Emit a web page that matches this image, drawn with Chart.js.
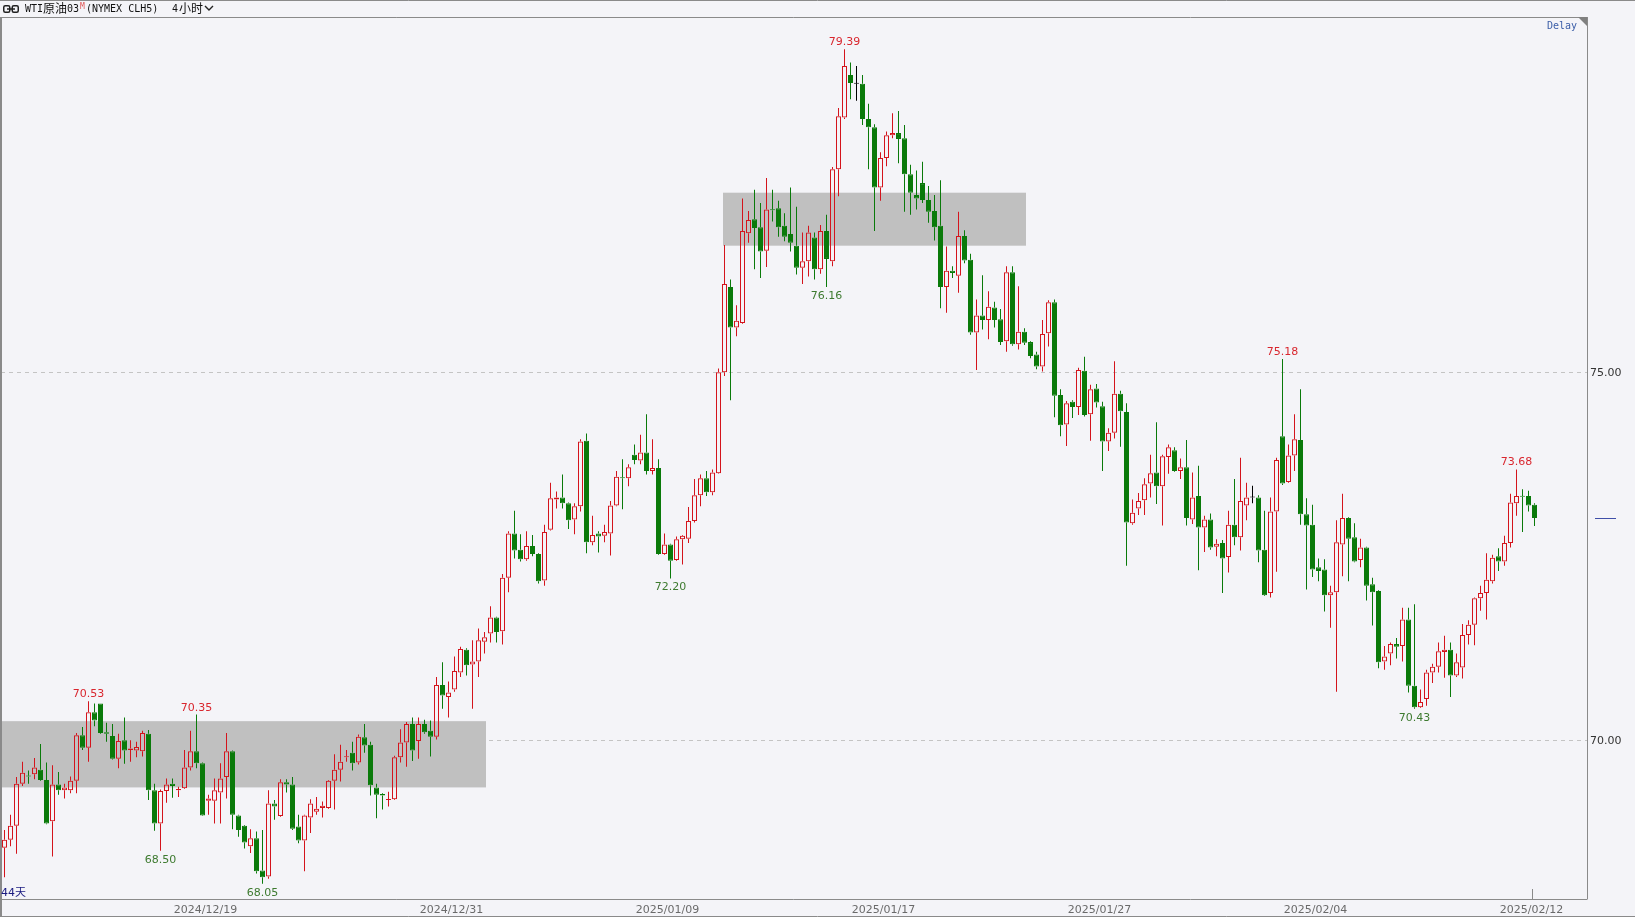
<!DOCTYPE html>
<html>
<head>
<meta charset="utf-8">
<title>WTI原油03 4小时</title>
<script src="https://cdn.jsdelivr.net/npm/chart.js@4.4.1/dist/chart.umd.min.js"></script>
<style>
  html, body { margin: 0; padding: 0; background: #f4f4f8; overflow: hidden; }
  #wrap { position: relative; width: 1635px; height: 917px; }
  #chart { position: absolute; left: 0; top: 0; }
  #hdr { position: absolute; left: 0; top: 0; width: 1635px; height: 17px; color: #111; }
  #hdr span { position: absolute; top: 2px; line-height: 13px; white-space: nowrap; }
  #hdr svg { position: absolute; }
  .mono { font-family: "DejaVu Sans Mono", monospace; font-size: 10px; }
  .cjk { font-family: "Noto Sans CJK SC", sans-serif; font-size: 12px; }
</style>
</head>
<body>
<div id="wrap">
  <canvas id="chart" width="1635" height="917"></canvas>
  <div id="hdr">
    <svg style="left:3px;top:5px" width="16" height="8" viewBox="0 0 16 8">
      <rect x="0.75" y="0.75" width="6" height="6.5" rx="1.5" fill="none" stroke="#222" stroke-width="1.5"/>
      <rect x="9.25" y="0.75" width="6" height="6.5" rx="1.5" fill="none" stroke="#222" stroke-width="1.5"/>
      <line x1="4" y1="4" x2="12" y2="4" stroke="#222" stroke-width="1.5"/>
    </svg>
    <span class="mono" style="left:25px">WTI</span>
    <span class="cjk" style="left:43px;top:1px">原油</span>
    <span class="mono" style="left:67px">03</span>
    <span class="mono" style="left:80px;top:0;font-size:8px;color:#e05050">M</span>
    <span class="mono" style="left:86px">(NYMEX CLH5)</span>
    <span class="mono" style="left:172px">4</span>
    <span class="cjk" style="left:179px;top:1px">小时</span>
    <svg style="left:204px;top:5px" width="10" height="7" viewBox="0 0 10 7">
      <polyline points="1,1 5,5 9,1" fill="none" stroke="#222" stroke-width="1.4"/>
    </svg>
  </div>
</div>
<script>
// 4h candles, oldest first
const open = [
  68.54, 68.65, 68.84, 69.41, 69.52, 69.54, 69.60, 69.46, 68.90, 69.40,
  69.32, 69.32, 69.45, 70.07, 69.90, 70.38, 70.50, 70.11, 70.06, 69.75,
  70.00, 69.87, 69.86, 69.85, 70.09, 69.32, 68.87, 69.31, 69.41, 69.32,
  69.35, 69.63, 69.85, 69.69, 69.18, 69.18, 69.29, 69.50, 69.85, 68.98,
  68.84, 68.56, 68.67, 68.23, 68.15, 69.14, 68.97, 69.43, 69.40, 68.83,
  68.64, 68.95, 69.03, 69.08, 69.08, 69.45, 69.60, 69.77, 69.83, 69.70,
  70.04, 69.94, 69.36, 69.27, 69.19, 69.20, 69.77, 69.97, 70.22, 69.99,
  70.22, 70.13, 70.05, 70.75, 70.59, 70.69, 70.92, 71.23, 71.03, 71.07,
  71.34, 71.45, 71.67, 71.48, 72.21, 72.81, 72.59, 72.46, 72.64, 72.53,
  72.17, 72.86, 73.27, 73.30, 73.22, 73.00, 73.18, 74.07, 72.69, 72.81,
  72.78, 72.81, 73.19, 73.57, 73.56, 73.88, 73.80, 73.91, 73.66, 73.70,
  72.53, 72.66, 72.45, 72.73, 72.74, 72.98, 73.33, 73.56, 73.37, 73.63,
  75.00, 76.16, 75.61, 75.67, 76.89, 77.08, 76.97, 76.65, 77.21, 77.23,
  76.99, 76.88, 76.72, 76.42, 76.51, 76.83, 76.40, 76.92, 76.51, 77.76,
  78.46, 79.04, 78.92, 78.92, 78.44, 78.33, 77.51, 77.91, 78.22, 78.25,
  78.18, 77.69, 77.41, 77.57, 77.34, 77.19, 76.99, 76.16, 76.38, 76.31,
  76.85, 76.53, 75.54, 75.77, 75.71, 75.88, 75.72, 75.42, 76.36, 75.38,
  75.55, 75.41, 75.24, 75.08, 75.53, 75.95, 74.69, 74.29, 74.60, 74.53,
  75.02, 74.43, 74.78, 74.54, 74.06, 74.18, 74.71, 74.46, 72.95, 73.15,
  73.26, 73.49, 73.64, 73.45, 73.85, 73.94, 73.66, 73.71, 73.00, 73.32,
  72.89, 73.00, 72.63, 72.68, 72.49, 72.93, 72.76, 73.19, 73.30, 73.30,
  72.59, 72.00, 73.11, 74.13, 73.51, 73.87, 74.08, 73.07, 72.93, 72.35,
  72.32, 71.97, 72.01, 72.66, 73.02, 72.76, 72.45, 72.62, 72.12, 72.03,
  71.07, 71.18, 71.31, 71.28, 71.64, 70.74, 70.45, 70.56, 70.92, 71.00,
  71.20, 71.23, 70.88, 70.99, 71.43, 71.57, 71.93, 72.00, 72.16, 72.50,
  72.43, 72.68, 73.22, 73.32, 73.32, 73.20
];
const high = [
  68.78, 68.99, 69.50, 69.71, 69.59, 69.76, 69.95, 69.70, 69.66, 69.57,
  69.41, 69.51, 70.10, 70.18, 70.53, 70.50, 70.50, 70.24, 70.22, 70.09,
  70.31, 70.00, 69.98, 70.13, 70.14, 69.41, 69.33, 69.48, 69.48, 69.37,
  69.87, 70.13, 70.35, 69.70, 69.26, 69.48, 69.69, 70.10, 69.86, 68.99,
  68.85, 68.79, 68.76, 68.78, 69.32, 69.19, 69.47, 69.47, 69.50, 68.99,
  68.99, 69.20, 69.23, 69.17, 69.46, 69.81, 69.94, 69.87, 69.98, 70.08,
  70.22, 69.98, 69.41, 69.28, 69.30, 69.79, 70.15, 70.25, 70.31, 70.31,
  70.28, 70.27, 70.86, 71.06, 70.80, 71.14, 71.27, 71.25, 71.36, 71.52,
  71.47, 71.82, 71.68, 72.26, 72.84, 73.12, 72.80, 72.84, 72.79, 72.54,
  72.93, 73.50, 73.38, 73.61, 73.23, 73.22, 74.09, 74.17, 73.05, 72.84,
  72.93, 73.25, 73.66, 73.82, 73.75, 74.02, 74.15, 74.43, 74.09, 73.82,
  72.81, 72.67, 72.77, 72.79, 73.17, 73.55, 73.61, 73.66, 73.68, 75.05,
  76.73, 76.26, 75.91, 77.36, 77.19, 77.48, 77.30, 77.64, 77.48, 77.33,
  77.16, 77.51, 77.25, 76.90, 76.99, 76.90, 77.00, 77.14, 77.79, 78.59,
  79.39, 79.21, 79.16, 79.04, 78.65, 78.37, 77.99, 78.27, 78.52, 78.55,
  78.36, 77.82, 77.74, 77.86, 77.53, 77.41, 77.61, 76.71, 76.44, 77.18,
  76.93, 76.61, 75.99, 76.32, 76.10, 75.96, 75.86, 76.44, 76.44, 76.17,
  75.60, 75.42, 75.28, 75.71, 75.98, 75.99, 74.77, 74.61, 74.62, 75.06,
  75.21, 74.83, 74.84, 74.60, 74.24, 75.15, 74.75, 74.58, 73.27, 73.36,
  73.56, 73.88, 74.32, 73.88, 74.02, 73.98, 73.83, 74.08, 73.64, 73.73,
  73.05, 73.08, 72.73, 72.72, 73.12, 73.55, 73.84, 73.50, 73.46, 73.33,
  73.12, 73.30, 73.84, 75.18, 74.02, 74.43, 74.77, 73.29, 73.20, 72.47,
  72.46, 72.10, 72.99, 73.35, 73.03, 72.95, 72.74, 72.63, 72.21, 72.04,
  71.28, 71.33, 71.39, 71.80, 71.80, 71.85, 70.69, 70.96, 71.04, 71.33,
  71.42, 71.33, 71.18, 71.58, 71.63, 71.94, 72.10, 72.54, 72.52, 72.61,
  72.78, 73.35, 73.68, 73.41, 73.39, 73.22
];
const low = [
  68.14, 68.56, 68.46, 69.38, 69.41, 69.47, 69.45, 68.86, 68.42, 69.26,
  69.21, 69.28, 69.28, 69.87, 69.71, 70.19, 70.09, 69.98, 69.74, 69.62,
  69.68, 69.71, 69.77, 69.78, 69.19, 68.77, 68.50, 69.15, 69.22, 69.23,
  69.34, 69.59, 69.62, 68.97, 68.99, 68.87, 68.87, 69.21, 68.79, 68.69,
  68.53, 68.47, 68.19, 68.05, 68.12, 68.92, 68.96, 69.29, 68.78, 68.60,
  68.22, 68.74, 68.99, 68.95, 69.07, 69.06, 69.44, 69.71, 69.59, 69.67,
  69.83, 69.25, 68.94, 69.06, 69.10, 69.19, 69.70, 69.64, 69.72, 69.75,
  70.09, 69.78, 70.01, 70.43, 70.31, 70.66, 70.86, 70.88, 70.43, 70.86,
  71.18, 71.33, 71.33, 71.30, 72.01, 72.47, 72.43, 72.44, 72.50, 72.13,
  72.10, 72.85, 73.15, 73.15, 72.87, 72.80, 73.11, 72.54, 72.65, 72.55,
  72.69, 72.51, 73.18, 73.14, 73.45, 73.75, 73.75, 73.61, 73.61, 72.52,
  72.52, 72.20, 72.44, 72.39, 72.68, 72.96, 73.18, 73.32, 73.33, 73.62,
  74.95, 74.62, 75.49, 75.66, 76.76, 76.40, 76.28, 76.43, 77.05, 76.84,
  76.78, 76.64, 76.33, 76.20, 76.30, 76.26, 76.34, 76.16, 76.44, 77.39,
  78.44, 78.71, 78.69, 78.36, 77.76, 76.92, 77.33, 77.80, 78.18, 77.84,
  77.18, 77.14, 77.21, 77.30, 77.03, 76.79, 75.87, 75.81, 76.28, 76.08,
  76.48, 75.51, 75.03, 75.58, 75.45, 75.61, 75.37, 75.28, 75.36, 75.31,
  75.37, 75.19, 75.04, 75.01, 75.35, 74.39, 74.13, 74.00, 74.38, 74.42,
  74.40, 74.07, 74.52, 73.66, 73.93, 74.10, 73.99, 72.37, 72.93, 73.06,
  73.06, 73.30, 73.21, 72.92, 73.62, 73.65, 73.55, 72.92, 72.94, 72.31,
  72.56, 72.59, 72.50, 72.00, 72.28, 72.65, 72.58, 72.99, 73.22, 72.42,
  71.96, 71.94, 72.29, 73.47, 73.50, 73.66, 72.93, 72.05, 72.22, 72.16,
  71.75, 71.53, 70.66, 72.23, 72.16, 72.42, 72.35, 71.90, 71.56, 70.98,
  70.96, 71.02, 71.11, 71.07, 70.65, 70.43, 70.44, 70.47, 70.78, 70.92,
  70.85, 70.59, 70.86, 70.84, 71.30, 71.29, 71.76, 71.64, 72.13, 72.30,
  72.37, 72.62, 73.05, 72.83, 73.11, 72.91
];
const close = [
  68.65, 68.84, 69.41, 69.56, 69.51, 69.63, 69.46, 68.87, 69.40, 69.32,
  69.36, 69.45, 70.07, 69.90, 70.38, 70.27, 70.10, 70.09, 69.75, 69.99,
  69.86, 69.89, 69.91, 70.10, 69.32, 68.87, 69.31, 69.40, 69.38, 69.34,
  69.63, 69.85, 69.69, 68.98, 69.21, 69.32, 69.48, 69.85, 68.99, 68.78,
  68.61, 68.67, 68.22, 68.14, 69.14, 69.10, 69.43, 69.40, 68.80, 68.64,
  68.98, 69.14, 69.07, 69.11, 69.45, 69.60, 69.71, 69.78, 69.69, 70.05,
  69.93, 69.39, 69.26, 69.25, 69.20, 69.77, 69.97, 70.22, 69.86, 70.22,
  70.11, 70.05, 70.75, 70.61, 70.65, 70.94, 71.24, 71.02, 71.07, 71.36,
  71.40, 71.67, 71.47, 72.21, 72.81, 72.58, 72.46, 72.64, 72.53, 72.16,
  72.83, 73.29, 73.30, 73.22, 72.99, 73.18, 74.06, 72.69, 72.79, 72.77,
  72.83, 73.19, 73.58, 73.56, 73.71, 73.81, 73.91, 73.66, 73.70, 72.53,
  72.66, 72.44, 72.73, 72.78, 72.98, 73.33, 73.56, 73.37, 73.64, 75.00,
  76.20, 75.61, 75.70, 76.92, 77.07, 76.96, 76.64, 77.21, 77.20, 76.97,
  76.84, 76.76, 76.42, 76.51, 76.90, 76.40, 76.92, 76.54, 77.76, 78.48,
  79.16, 78.93, 78.92, 78.44, 78.33, 77.51, 77.91, 78.22, 78.25, 78.17,
  77.69, 77.44, 77.36, 77.34, 77.18, 76.97, 76.16, 76.38, 76.35, 76.85,
  76.52, 75.54, 75.77, 75.71, 75.89, 75.71, 75.41, 76.36, 75.38, 75.55,
  75.40, 75.22, 75.08, 75.52, 75.95, 74.68, 74.28, 74.58, 74.53, 75.03,
  74.42, 74.77, 74.59, 74.06, 74.18, 74.71, 74.47, 72.96, 73.09, 73.25,
  73.48, 73.63, 73.45, 73.86, 73.98, 73.66, 73.71, 73.02, 73.30, 72.89,
  73.00, 72.62, 72.67, 72.47, 72.93, 72.76, 73.25, 73.30, 73.30, 72.58,
  71.97, 73.11, 73.81, 73.49, 73.87, 74.09, 73.07, 72.92, 72.32, 72.30,
  71.97, 72.01, 72.69, 73.02, 72.74, 72.43, 72.62, 72.10, 72.01, 71.06,
  71.14, 71.31, 71.27, 71.64, 70.74, 70.45, 70.52, 70.92, 71.00, 71.21,
  71.23, 70.88, 71.06, 71.43, 71.57, 71.93, 72.00, 72.18, 72.48, 72.43,
  72.68, 73.23, 73.32, 73.31, 73.19, 73.02
];

// bottom axis: date labels sit between bars
const dateTicks = [33.5, 74.5, 110.5, 146.5, 182.5, 218.5, 254.5];
const dateLabels = ['2024/12/19', '2024/12/31', '2025/01/09', '2025/01/17', '2025/01/27', '2025/02/04', '2025/02/12'];
const priceTicks = [70, 75];

// grey zones (bar index range, price range)
const zoneFrom = [-1, 119.75];
const zoneTo = [80.25, 170.25];
const zoneLow = [69.36, 76.72];
const zoneHigh = [70.26, 77.44];

// high / low markers
const markIdx = [14, 32, 26, 43, 111, 137, 140, 213, 235, 252];
const markSide = ['high', 'high', 'low', 'low', 'low', 'low', 'high', 'high', 'low', 'high'];

const UP = '#d4141c', DOWN = '#0a7a0a', FLAT = '#000000';
const idx = close.map((_, i) => i);
const col = idx.map(i => close[i] > open[i] ? UP : (close[i] < open[i] ? DOWN : FLAT));

const bodies = idx.map(i => ({ x: i, y: [open[i], close[i]] }));
const upperWicks = idx.map(i => ({ x: i, y: [Math.max(open[i], close[i]), high[i]] }));
const lowerWicks = idx.map(i => ({ x: i, y: [low[i], Math.min(open[i], close[i])] }));

const deco = {
  id: 'deco',
  beforeDatasetsDraw(chart) {
    const { ctx, scales: { x, y } } = chart;
    ctx.save();
    ctx.fillStyle = '#c0c0c0';
    for (let k = 0; k < zoneFrom.length; k++) {
      const x1 = Math.max(0, x.getPixelForValue(zoneFrom[k]));
      const x2 = x.getPixelForValue(zoneTo[k]);
      const y1 = y.getPixelForValue(zoneHigh[k]);
      const y2 = y.getPixelForValue(zoneLow[k]);
      ctx.fillRect(x1, y1, x2 - x1, y2 - y1);
    }
    ctx.restore();
  },
  afterDraw(chart) {
    const { ctx, chartArea: a, scales: { x, y } } = chart;
    ctx.save();

    // high / low labels
    ctx.font = '11px "DejaVu Sans"';
    ctx.textAlign = 'center';
    ctx.textBaseline = 'alphabetic';
    markIdx.forEach((i, k) => {
      const px = x.getPixelForValue(i);
      if (markSide[k] === 'high') {
        ctx.fillStyle = '#d9262e';
        ctx.fillText(high[i].toFixed(2), px, y.getPixelForValue(high[i]) - 4);
      } else {
        ctx.fillStyle = '#3d7a2f';
        ctx.fillText(low[i].toFixed(2), px, y.getPixelForValue(low[i]) + 12);
      }
    });

    // frame
    ctx.strokeStyle = '#8a8a8a';
    ctx.lineWidth = 1;
    ctx.beginPath();
    ctx.moveTo(0, 0.5); ctx.lineTo(1635, 0.5);
    ctx.moveTo(0, a.top + 0.5); ctx.lineTo(a.right + 0.5, a.top + 0.5);
    ctx.moveTo(a.right + 0.5, a.top); ctx.lineTo(a.right + 0.5, a.bottom);
    ctx.moveTo(0, a.bottom + 0.5); ctx.lineTo(a.right + 0.5, a.bottom + 0.5);
    ctx.moveTo(0, 916.5); ctx.lineTo(1635, 916.5);
    ctx.stroke();
    ctx.lineWidth = 2;
    ctx.beginPath();
    ctx.moveTo(1, a.top); ctx.lineTo(1, 917);
    ctx.stroke();

    // corner triangle + Delay
    ctx.fillStyle = '#808080';
    ctx.beginPath();
    ctx.moveTo(a.right - 9, a.top);
    ctx.lineTo(a.right, a.top);
    ctx.lineTo(a.right, a.top + 9);
    ctx.closePath();
    ctx.fill();
    ctx.font = '10px "DejaVu Sans Mono"';
    ctx.fillStyle = '#3c5ea8';
    ctx.textAlign = 'right';
    ctx.textBaseline = 'middle';
    ctx.fillText('Delay', a.right - 10, a.top + 9);

    // last price marker
    const ly = Math.round(y.getPixelForValue(close[close.length - 1])) + 0.5;
    ctx.strokeStyle = '#3f4fa8';
    ctx.lineWidth = 1;
    ctx.beginPath();
    ctx.moveTo(a.right + 8, ly); ctx.lineTo(a.right + 29, ly);
    ctx.stroke();

    // tick under last date
    const tx = Math.round(x.getPixelForValue(dateTicks[dateTicks.length - 1])) + 0.5;
    ctx.strokeStyle = '#8a8a8a';
    ctx.beginPath();
    ctx.moveTo(tx, a.bottom - 10); ctx.lineTo(tx, a.bottom);
    ctx.stroke();

    // period span
    ctx.font = '11px "DejaVu Sans", "Noto Sans CJK SC"';
    ctx.fillStyle = '#1a1a80';
    ctx.textAlign = 'left';
    ctx.textBaseline = 'alphabetic';
    ctx.fillText('44天', 1, a.bottom - 3);

    ctx.restore();
  }
};

new Chart(document.getElementById('chart'), {
  type: 'bar',
  data: {
    datasets: [
      {
        label: 'body',
        data: bodies,
        backgroundColor: idx.map(i => close[i] > open[i] ? 'rgba(0,0,0,0)' : col[i]),
        borderColor: col,
        borderWidth: 1,
        borderSkipped: false,
        barThickness: 5,
        minBarLength: 1,
        inflateAmount: 0,
        grouped: false
      },
      {
        label: 'upper',
        data: upperWicks,
        backgroundColor: col,
        borderWidth: 0,
        barThickness: 1,
        inflateAmount: 0,
        grouped: false
      },
      {
        label: 'lower',
        data: lowerWicks,
        backgroundColor: col,
        borderWidth: 0,
        barThickness: 1,
        inflateAmount: 0,
        grouped: false
      }
    ]
  },
  options: {
    responsive: false,
    animation: false,
    devicePixelRatio: 1,
    layout: { padding: { top: 17, left: 1, right: 0, bottom: 0 } },
    plugins: {
      legend: { display: false },
      tooltip: { enabled: false }
    },
    scales: {
      x: {
        type: 'linear',
        offset: false,
        min: -7 / 12,
        max: 263.75,
        grid: { display: false, drawTicks: false, tickLength: 0 },
        border: { display: false },
        afterBuildTicks: ax => { ax.ticks = dateTicks.map(v => ({ value: v })); },
        afterFit: ax => { ax.height = 18; },
        ticks: {
          autoSkip: false,
          maxRotation: 0,
          padding: 6,
          color: '#6a6a6a',
          font: { family: 'DejaVu Sans', size: 11, lineHeight: 1 },
          callback: (v, i) => dateLabels[i]
        }
      },
      y: {
        type: 'linear',
        position: 'right',
        min: 67.844,
        max: 79.827,
        grid: { color: '#c4c4c4', drawTicks: false },
        border: { display: false, dash: [4, 4] },
        afterBuildTicks: ax => { ax.ticks = priceTicks.map(v => ({ value: v })); },
        afterFit: ax => { ax.width = 48; },
        ticks: {
          padding: 3,
          labelOffset: 1,
          color: '#333333',
          font: { family: 'DejaVu Sans', size: 11 },
          callback: v => v.toFixed(2)
        }
      }
    }
  },
  plugins: [deco]
});
</script>
</body>
</html>
